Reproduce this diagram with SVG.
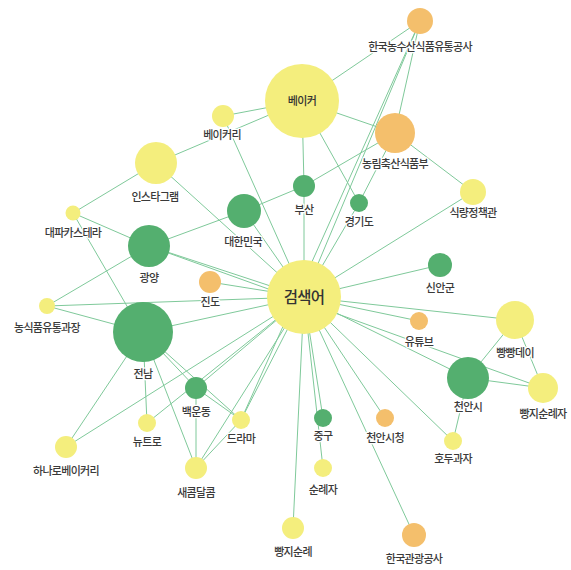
<svg xmlns="http://www.w3.org/2000/svg" width="571" height="570" viewBox="0 0 571 570">
<style>
.e{stroke:#7fc99a;stroke-width:1;fill:none}
.y{fill:#f4ee7d}
.g{fill:#54af6f}
.o{fill:#f4bf6c}
text{font-family:"Noto Sans CJK KR","Noto Sans",sans-serif;font-size:11px;letter-spacing:-0.7px;font-weight:500;fill:#3a3a3a;text-anchor:middle;stroke:#fff;stroke-width:2.5px;paint-order:stroke;stroke-linejoin:round}
.in{stroke:none;fill:#333}
.big{font-size:15.5px;letter-spacing:-0.8px;stroke:none;fill:#333}
</style>
<rect width="571" height="570" fill="#fff"/>
<g id="connectors">
<line class="e" x1="302" y1="101" x2="304" y2="186"/>
<line class="e" x1="304" y1="186" x2="304" y2="297"/>
<line class="e" x1="302" y1="101" x2="223" y2="116"/>
<line class="e" x1="302" y1="101" x2="156" y2="163"/>
<line class="e" x1="302" y1="101" x2="420" y2="21"/>
<line class="e" x1="302" y1="101" x2="395" y2="133"/>
<line class="e" x1="302" y1="101" x2="359" y2="203"/>
<line class="e" x1="223" y1="116" x2="304" y2="297"/>
<line class="e" x1="156" y1="163" x2="304" y2="297"/>
<line class="e" x1="156" y1="163" x2="73" y2="213"/>
<line class="e" x1="73" y1="213" x2="149" y2="246"/>
<line class="e" x1="73" y1="213" x2="135" y2="320"/>
<line class="e" x1="149" y1="246" x2="244" y2="211"/>
<line class="e" x1="244" y1="211" x2="304" y2="186"/>
<line class="e" x1="304" y1="186" x2="395" y2="133"/>
<line class="e" x1="244" y1="211" x2="304" y2="297"/>
<line class="e" x1="149" y1="246" x2="304" y2="297"/>
<line class="e" x1="149" y1="246" x2="543" y2="388"/>
<line class="e" x1="149" y1="246" x2="47" y2="306"/>
<line class="e" x1="210" y1="282" x2="304" y2="297"/>
<line class="e" x1="47" y1="306" x2="304" y2="297"/>
<line class="e" x1="47" y1="306" x2="143" y2="332"/>
<line class="e" x1="143" y1="332" x2="304" y2="297"/>
<line class="e" x1="143" y1="332" x2="196" y2="388"/>
<line class="e" x1="143" y1="332" x2="241" y2="420"/>
<line class="e" x1="143" y1="332" x2="147" y2="423"/>
<line class="e" x1="143" y1="332" x2="196" y2="468"/>
<line class="e" x1="143" y1="332" x2="66" y2="447"/>
<line class="e" x1="196" y1="388" x2="196" y2="468"/>
<line class="e" x1="196" y1="388" x2="241" y2="420"/>
<line class="e" x1="147" y1="423" x2="304" y2="297"/>
<line class="e" x1="196" y1="388" x2="304" y2="297"/>
<line class="e" x1="66" y1="447" x2="304" y2="297"/>
<line class="e" x1="241" y1="420" x2="304" y2="297"/>
<line class="e" x1="196" y1="468" x2="241" y2="420"/>
<line class="e" x1="196" y1="468" x2="304" y2="297"/>
<line class="e" x1="293" y1="528" x2="304" y2="297"/>
<line class="e" x1="323" y1="418" x2="304" y2="297"/>
<line class="e" x1="323" y1="468" x2="304" y2="297"/>
<line class="e" x1="385" y1="418" x2="304" y2="297"/>
<line class="e" x1="414" y1="535" x2="304" y2="297"/>
<line class="e" x1="453" y1="441" x2="304" y2="297"/>
<line class="e" x1="453" y1="441" x2="468" y2="378"/>
<line class="e" x1="419" y1="321" x2="304" y2="297"/>
<line class="e" x1="515" y1="320" x2="304" y2="297"/>
<line class="e" x1="515" y1="320" x2="468" y2="378"/>
<line class="e" x1="515" y1="320" x2="543" y2="388"/>
<line class="e" x1="468" y1="378" x2="543" y2="388"/>
<line class="e" x1="468" y1="378" x2="304" y2="297"/>
<line class="e" x1="440" y1="265" x2="304" y2="297"/>
<line class="e" x1="473" y1="192" x2="304" y2="297"/>
<line class="e" x1="473" y1="192" x2="395" y2="133"/>
<line class="e" x1="420" y1="21" x2="395" y2="133"/>
<line class="e" x1="420" y1="21" x2="304" y2="297"/>
<line class="e" x1="420" y1="21" x2="241" y2="420"/>
<line class="e" x1="395" y1="133" x2="359" y2="203"/>
<line class="e" x1="359" y1="203" x2="304" y2="297"/>
</g>
<g id="n-search"><circle class="y" cx="304" cy="297" r="37"/><text class="big" x="304" y="303">검색어</text></g>
<g id="n-baker"><circle class="y" cx="302" cy="101" r="37"/><text class="in" x="302" y="105">베이커</text></g>
<g id="n-atfis"><circle class="o" cx="420" cy="21" r="13"/><text x="420" y="51">한국농수산식품유통공사</text></g>
<g id="n-bakery"><circle class="y" cx="223" cy="116" r="11"/><text x="222" y="139">베이커리</text></g>
<g id="n-mafra"><circle class="o" cx="395" cy="133" r="20"/><text x="395" y="168">농림축산식품부</text></g>
<g id="n-insta"><circle class="y" cx="156" cy="163" r="21"/><text x="155" y="201">인스타그램</text></g>
<g id="n-busan"><circle class="g" cx="304" cy="186" r="11"/><text x="304" y="214">부산</text></g>
<g id="n-gyeonggi"><circle class="g" cx="359" cy="203" r="9"/><text x="359" y="226">경기도</text></g>
<g id="n-food"><circle class="y" cx="473" cy="192" r="13"/><text x="473" y="217">식량정책관</text></g>
<g id="n-daepa"><circle class="y" cx="73" cy="213" r="7.5"/><text x="73" y="237">대파카스테라</text></g>
<g id="n-korea"><circle class="g" cx="244" cy="211" r="17"/><text x="243" y="246">대한민국</text></g>
<g id="n-gwangyang"><circle class="g" cx="149" cy="246" r="21"/><text x="149" y="282">광양</text></g>
<g id="n-sinan"><circle class="g" cx="440" cy="265" r="12"/><text x="440" y="292">신안군</text></g>
<g id="n-jindo"><circle class="o" cx="210" cy="282" r="11"/><text x="210" y="306">진도</text></g>
<g id="n-nongsik"><circle class="y" cx="47" cy="306" r="8"/><text x="47" y="332">농식품유통과장</text></g>
<g id="n-youtube"><circle class="o" cx="419" cy="321" r="9"/><text x="419" y="346">유튜브</text></g>
<g id="n-bbday"><circle class="y" cx="515" cy="320" r="19"/><text x="515" y="357">빵빵데이</text></g>
<g id="n-jeonnam"><circle class="g" cx="143" cy="332" r="30"/><text x="143" y="378">전남</text></g>
<g id="n-cheonan"><circle class="g" cx="468" cy="378" r="21"/><text x="468" y="411">천안시</text></g>
<g id="n-baekun"><circle class="g" cx="196" cy="388" r="11"/><text x="196" y="416">백운동</text></g>
<g id="n-bbpilgrim"><circle class="y" cx="543" cy="388" r="15"/><text x="543" y="418">빵지순례자</text></g>
<g id="n-newtro"><circle class="y" cx="147" cy="423" r="9"/><text x="147" y="446">뉴트로</text></g>
<g id="n-drama"><circle class="y" cx="241" cy="420" r="9"/><text x="241" y="443">드라마</text></g>
<g id="n-junggu"><circle class="g" cx="323" cy="418" r="9"/><text x="323" y="440">중구</text></g>
<g id="n-cityhall"><circle class="o" cx="385" cy="418" r="9"/><text x="385" y="442">천안시청</text></g>
<g id="n-walnut"><circle class="y" cx="453" cy="441" r="9"/><text x="453" y="463">호두과자</text></g>
<g id="n-hanaro"><circle class="y" cx="66" cy="447" r="11"/><text x="66" y="475">하나로베이커리</text></g>
<g id="n-sweet"><circle class="y" cx="196" cy="468" r="11"/><text x="196" y="497">새콤달콤</text></g>
<g id="n-pilgrim"><circle class="y" cx="323" cy="468" r="9"/><text x="323" y="494">순례자</text></g>
<g id="n-bbtour"><circle class="y" cx="293" cy="528" r="11"/><text x="293" y="556">빵지순례</text></g>
<g id="n-kto"><circle class="o" cx="414" cy="535" r="12"/><text x="414" y="563">한국관광공사</text></g>
</svg>
